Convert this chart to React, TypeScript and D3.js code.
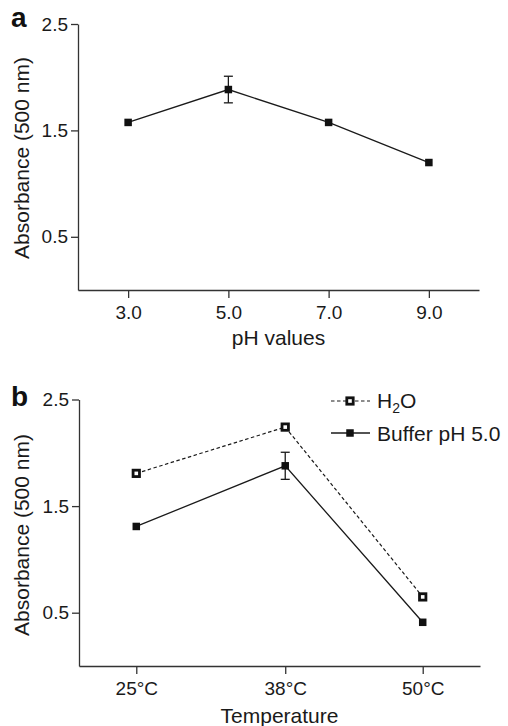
import React, { useEffect, useRef } from "react";
import * as d3 from "d3";

const phValues = [3, 5, 7, 9];
const phAbs = [1.575, 1.884, 1.575, 1.198];
const phErr = [0, 0.125, 0, 0];
const phTickLabels = ["3.0", "5.0", "7.0", "9.0"];

const temps = [25, 38, 50];
const tempTickLabels = ["25°C", "38°C", "50°C"];
const h2oAbs = [1.807, 2.241, 0.648];
const bufferAbs = [1.309, 1.878, 0.41];
const bufferErr = [0, 0.127, 0];

const yTicks = [0.5, 1.5, 2.5];

const FONT = "'Liberation Sans', Arial, Helvetica, sans-serif";
const INK = "#1a1a1a";

export default function App() {
  const ref = useRef<SVGSVGElement | null>(null);

  useEffect(() => {
    const svg = d3.select(ref.current);
    svg.selectAll("*").remove();

    const drawAxes = (
      g: any,
      x: d3.ScaleLinear<number, number>,
      y: d3.ScaleLinear<number, number>,
      xTicks: number[],
      xLabels: string[],
      xTitle: string,
      xTitleY: number,
      yTitleCenter: number
    ) => {
      const yAxis = d3
        .axisLeft(y)
        .tickValues(yTicks)
        .tickFormat(d3.format(".1f") as any)
        .tickSize(7)
        .tickSizeOuter(0)
        .tickPadding(3);
      const ya = g.append("g").attr("transform", `translate(${x.range()[0]},0)`).call(yAxis);
      const xAxis = d3
        .axisBottom(x)
        .tickValues(xTicks)
        .tickFormat((d: any, i: number) => xLabels[i])
        .tickSize(8)
        .tickSizeOuter(0)
        .tickPadding(8);
      const xa = g.append("g").attr("transform", `translate(0,${y.range()[0]})`).call(xAxis);
      [ya, xa].forEach((a: any) => {
        a.selectAll("path,line").attr("stroke", "#333").attr("stroke-width", 1.3);
        a.selectAll("text").attr("font-size", 19).attr("font-family", FONT).attr("fill", INK);
      });
      const xc = (x.range()[0] + x.range()[1]) / 2;
      g.append("text")
        .attr("x", xc)
        .attr("y", xTitleY)
        .attr("text-anchor", "middle")
        .attr("font-size", 21)
        .attr("font-family", FONT)
        .attr("fill", INK)
        .text(xTitle);
      g.append("text")
        .attr("transform", `translate(29,${yTitleCenter}) rotate(-90)`)
        .attr("text-anchor", "middle")
        .attr("font-size", 21)
        .attr("font-family", FONT)
        .attr("fill", INK)
        .text("Absorbance (500 nm)");
    };

    const errBars = (g: any, xs: number[], ys: number[], es: number[], x: any, y: any) => {
      xs.forEach((xv, i) => {
        const e = es[i];
        if (!e) return;
        const cx = x(xv);
        g.append("line").attr("x1", cx).attr("x2", cx).attr("y1", y(ys[i] - e)).attr("y2", y(ys[i] + e)).attr("stroke", INK).attr("stroke-width", 1.3);
        [ys[i] - e, ys[i] + e].forEach((v) => {
          g.append("line").attr("x1", cx - 4.5).attr("x2", cx + 4.5).attr("y1", y(v)).attr("y2", y(v)).attr("stroke", INK).attr("stroke-width", 1.3);
        });
      });
    };

    const filledSquares = (g: any, xs: number[], ys: number[], x: any, y: any, s = 7.5) => {
      xs.forEach((xv, i) => {
        g.append("rect").attr("x", x(xv) - s / 2).attr("y", y(ys[i]) - s / 2).attr("width", s).attr("height", s).attr("fill", "#111");
      });
    };
    const openSquares = (g: any, xs: number[], ys: number[], x: any, y: any) => {
      xs.forEach((xv, i) => {
        g.append("rect").attr("x", x(xv) - 3.2).attr("y", y(ys[i]) - 3.2).attr("width", 6.4).attr("height", 6.4).attr("fill", "#fff").attr("stroke", "#111").attr("stroke-width", 2.8);
      });
    };

    // Panel a
    const xa = d3.scaleLinear().domain([2, 10]).range([78, 479]);
    const ya = d3.scaleLinear().domain([0, 2.5]).range([290, 24]);
    const ga = svg.append("g");
    drawAxes(ga, xa, ya, phValues, phTickLabels, "pH values", 345, 158);
    const lineA = d3.line<number>().x((d, i) => xa(phValues[i])).y((d) => ya(d));
    ga.append("path").attr("d", lineA(phAbs)).attr("fill", "none").attr("stroke", INK).attr("stroke-width", 1.3);
    errBars(ga, phValues, phAbs, phErr, xa, ya);
    filledSquares(ga, phValues, phAbs, xa, ya);
    ga.append("text").attr("x", 11).attr("y", 27).attr("font-size", 28).attr("font-weight", "bold").attr("font-family", FONT).attr("fill", "#111").text("a");

    // Panel b
    const xb = d3.scaleLinear().domain([20, 55]).range([79, 480]);
    const yb = d3.scaleLinear().domain([0, 2.5]).range([666, 399.5]);
    const gb = svg.append("g");
    drawAxes(gb, xb, yb, temps, tempTickLabels, "Temperature", 723, 535);
    const lineB = (vals: number[]) => d3.line<number>().x((d, i) => xb(temps[i])).y((d) => yb(d))(vals);
    gb.append("path").attr("d", lineB(h2oAbs)).attr("fill", "none").attr("stroke", INK).attr("stroke-width", 1.2).attr("stroke-dasharray", "3.5,2.5");
    gb.append("path").attr("d", lineB(bufferAbs)).attr("fill", "none").attr("stroke", INK).attr("stroke-width", 1.3);
    errBars(gb, temps, bufferAbs, bufferErr, xb, yb);
    openSquares(gb, temps, h2oAbs, xb, yb);
    filledSquares(gb, temps, bufferAbs, xb, yb);
    gb.append("text").attr("x", 11).attr("y", 406).attr("font-size", 28).attr("font-weight", "bold").attr("font-family", FONT).attr("fill", "#111").text("b");

    // Legend
    const lg = gb.append("g");
    lg.append("line").attr("x1", 331).attr("x2", 370).attr("y1", 401).attr("y2", 401).attr("stroke", INK).attr("stroke-width", 1.2).attr("stroke-dasharray", "3.5,2.5");
    lg.append("rect").attr("x", 350 - 3.2).attr("y", 401 - 3.2).attr("width", 6.4).attr("height", 6.4).attr("fill", "#fff").attr("stroke", "#111").attr("stroke-width", 2.8);
    const t1 = lg.append("text").attr("x", 377).attr("y", 408).attr("font-size", 21).attr("font-family", FONT).attr("fill", INK);
    t1.append("tspan").text("H");
    t1.append("tspan").attr("font-size", 14).attr("dy", 5).text("2");
    t1.append("tspan").attr("dy", -5).text("O");
    lg.append("line").attr("x1", 331).attr("x2", 370).attr("y1", 433).attr("y2", 433).attr("stroke", INK).attr("stroke-width", 1.3);
    lg.append("rect").attr("x", 350 - 3.75).attr("y", 433 - 3.75).attr("width", 7.5).attr("height", 7.5).attr("fill", "#111");
    lg.append("text").attr("x", 377).attr("y", 441).attr("font-size", 21).attr("font-family", FONT).attr("fill", INK).text("Buffer pH 5.0");
  }, []);

  return (
    <svg
      ref={ref}
      width={508}
      height={726}
      style={{ position: "absolute", left: 0, top: 0, background: "#fff" }}
    />
  );
}
